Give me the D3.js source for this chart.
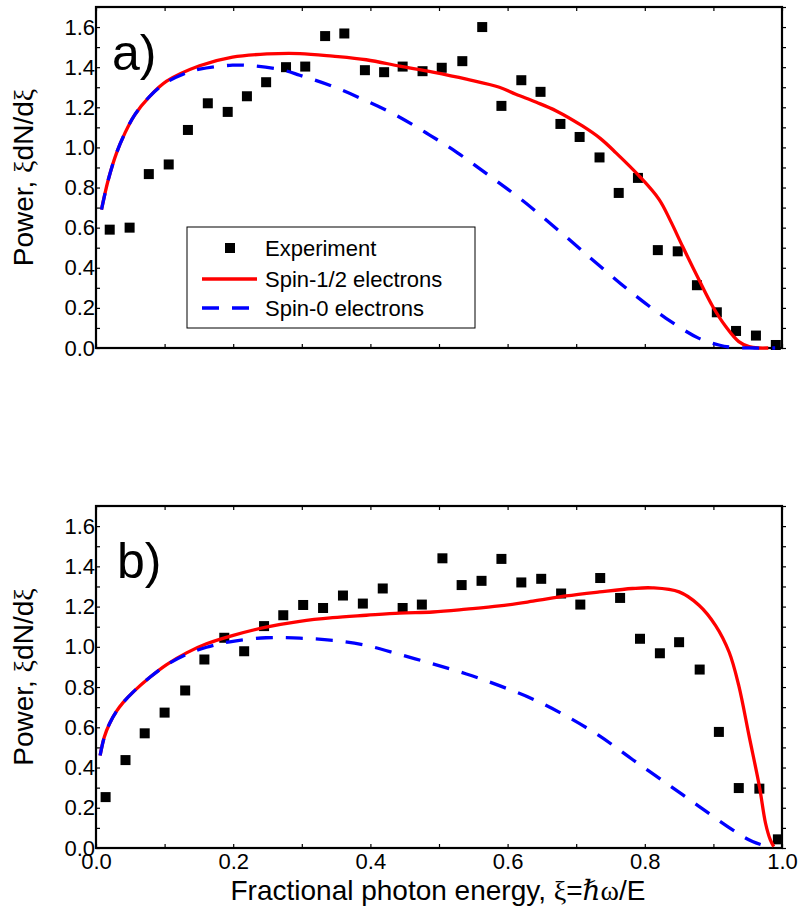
<!DOCTYPE html>
<html>
<head>
<meta charset="utf-8">
<script src="https://cdn.jsdelivr.net/npm/d3@7"></script>
<style>
  body { margin: 0; background: #fff; }
  text { font-family: "Liberation Sans", Arial, sans-serif; fill: #000; }
  .sym { font-family: "Liberation Serif", "DejaVu Serif", serif; }
</style>
</head>
<body>
<div id="chart"></div>
<script>
// experiment, panel a)
var expAX = [0.020,0.049,0.077,0.106,0.134,0.163,0.192,0.220,0.248,0.277,0.305,0.334,0.362,0.392,0.420,0.447,0.476,0.504,0.534,0.563,0.591,0.620,0.648,0.677,0.705,0.734,0.762,0.790,0.819,0.848,0.876,0.905,0.933,0.962,0.991];
var expAY = [0.59,0.60,0.867,0.915,1.087,1.22,1.177,1.255,1.325,1.40,1.403,1.555,1.568,1.385,1.375,1.403,1.38,1.397,1.43,1.60,1.207,1.335,1.277,1.117,1.052,0.95,0.773,0.848,0.488,0.482,0.313,0.178,0.085,0.062,0.015];

// theory, panel a)
var spinHalfAX = [0.008,0.018,0.030,0.042,0.056,0.079,0.103,0.151,0.199,0.250,0.297,0.345,0.394,0.443,0.491,0.540,0.588,0.612,0.642,0.671,0.709,0.735,0.758,0.792,0.821,0.838,0.855,0.879,0.899,0.918,0.937,0.952,0.966,0.980];
var spinHalfAY = [0.69,0.84,0.973,1.07,1.16,1.257,1.33,1.407,1.45,1.466,1.468,1.455,1.437,1.405,1.375,1.34,1.30,1.265,1.225,1.182,1.107,1.045,0.973,0.857,0.74,0.63,0.507,0.34,0.207,0.107,0.032,0.007,0,0];
var spinZeroAX = [0.008,0.018,0.030,0.042,0.056,0.079,0.103,0.127,0.151,0.199,0.234,0.273,0.297,0.343,0.389,0.435,0.481,0.527,0.574,0.620,0.685,0.734,0.782,0.831,0.879,0.908,0.928,0.960,0.990];
var spinZeroAY = [0.69,0.84,0.973,1.07,1.16,1.257,1.325,1.365,1.39,1.41,1.405,1.385,1.36,1.307,1.24,1.165,1.073,0.973,0.857,0.74,0.555,0.41,0.273,0.148,0.048,0.015,0.003,0,0];

// experiment, panel b)
var expBX = [0.014,0.043,0.071,0.100,0.130,0.158,0.187,0.216,0.245,0.273,0.302,0.331,0.360,0.389,0.418,0.447,0.475,0.505,0.533,0.562,0.591,0.620,0.649,0.678,0.706,0.735,0.764,0.793,0.822,0.850,0.880,0.908,0.937,0.967,0.994];
var expBY = [0.253,0.437,0.57,0.673,0.783,0.937,1.045,0.978,1.103,1.157,1.208,1.193,1.255,1.215,1.29,1.193,1.21,1.44,1.307,1.328,1.437,1.32,1.338,1.265,1.21,1.342,1.243,1.04,0.968,1.023,0.887,0.577,0.298,0.295,0.043];

// theory, panel b)
var spinHalfBX = [0.006,0.012,0.020,0.030,0.040,0.054,0.079,0.103,0.132,0.161,0.200,0.248,0.297,0.345,0.394,0.443,0.491,0.540,0.588,0.637,0.685,0.734,0.782,0.811,0.850,0.879,0.903,0.923,0.937,0.952,0.967,0.976,0.983,0.988];
var spinHalfBY = [0.46,0.55,0.62,0.68,0.725,0.775,0.85,0.912,0.97,1.015,1.057,1.098,1.127,1.145,1.157,1.168,1.173,1.187,1.203,1.227,1.253,1.273,1.29,1.293,1.273,1.207,1.107,0.973,0.807,0.557,0.307,0.123,0.04,0.007];
var spinZeroBX = [0.006,0.012,0.020,0.030,0.040,0.054,0.079,0.103,0.132,0.161,0.195,0.248,0.297,0.345,0.394,0.443,0.491,0.540,0.588,0.637,0.685,0.734,0.782,0.831,0.879,0.928,0.957,0.986];
var spinZeroBY = [0.46,0.55,0.62,0.68,0.725,0.775,0.85,0.91,0.962,0.998,1.025,1.045,1.043,1.032,1.007,0.962,0.915,0.865,0.807,0.74,0.657,0.557,0.44,0.323,0.207,0.09,0.032,0];

var yTicks = [0.0,0.2,0.4,0.6,0.8,1.0,1.2,1.4,1.6];
var xTicks = [0.0,0.2,0.4,0.6,0.8,1.0];
var legendLabels = ["Experiment","Spin-1/2 electrons","Spin-0 electrons"];

var width = 802, height = 911;
var left = 96, right = 782;

var svg = d3.select("#chart").append("svg")
	.attr("width", width)
	.attr("height", height);

var x = d3.scaleLinear().domain([0, 1]).range([left, right]);

function zip(xs, ys) {
	return xs.map(function(v, i) { return [v, ys[i]]; });
}

function panel(top, bottom, label, labelPos, exp, half, zero, showXLabels) {
	var y = d3.scaleLinear().domain([0, 1.7]).range([bottom, top]);
	var g = svg.append("g");

	// minor ticks every 0.1
	var minorX = d3.range(0, 1.0001, 0.1);
	var minorY = d3.range(0, 1.7001, 0.1);
	g.append("g")
		.attr("transform", "translate(0," + bottom + ")")
		.call(d3.axisBottom(x).tickValues(minorX).tickSize(-4).tickFormat(""))
		.call(function(s) { s.select(".domain").remove(); });
	g.append("g")
		.attr("transform", "translate(0," + top + ")")
		.call(d3.axisTop(x).tickValues(minorX).tickSize(-4).tickFormat(""))
		.call(function(s) { s.select(".domain").remove(); });
	g.append("g")
		.attr("transform", "translate(" + left + ",0)")
		.call(d3.axisLeft(y).tickValues(minorY).tickSize(-4).tickFormat(""))
		.call(function(s) { s.select(".domain").remove(); });
	g.append("g")
		.attr("transform", "translate(" + right + ",0)")
		.call(d3.axisRight(y).tickValues(minorY).tickSize(4).tickFormat(""))
		.call(function(s) { s.select(".domain").remove(); });
	g.selectAll(".tick line").attr("stroke", "#000").attr("stroke-width", 1.2);

	// y tick labels
	g.append("g")
		.attr("transform", "translate(" + left + ",0)")
		.call(d3.axisLeft(y).tickValues(yTicks).tickSize(0).tickPadding(1).tickFormat(d3.format(".1f")))
		.call(function(s) {
			s.select(".domain").remove();
			s.selectAll("text").style("font-size", "22px").style("font-family", "'Liberation Sans', Arial, sans-serif");
		});

	if (showXLabels) {
		g.append("g")
			.attr("transform", "translate(0," + bottom + ")")
			.call(d3.axisBottom(x).tickValues(xTicks).tickSize(0).tickPadding(5).tickFormat(d3.format(".1f")))
			.call(function(s) {
				s.select(".domain").remove();
				s.selectAll("text").style("font-size", "22px").style("font-family", "'Liberation Sans', Arial, sans-serif");
			});
	}

	// frame
	g.append("rect")
		.attr("x", left).attr("y", top)
		.attr("width", right - left).attr("height", bottom - top)
		.attr("fill", "none").attr("stroke", "#000").attr("stroke-width", 2.2);

	// data squares
	g.selectAll("rect.pt")
		.data(exp)
		.enter()
		.append("rect")
		.attr("class", "pt")
		.attr("x", function(d) { return x(d[0]) - 5; })
		.attr("y", function(d) { return y(d[1]) - 5; })
		.attr("width", 10).attr("height", 10)
		.attr("fill", "#000");

	var line = d3.line()
		.x(function(d) { return x(d[0]); })
		.y(function(d) { return y(Math.max(0, d[1])); })
		.curve(d3.curveCatmullRom.alpha(0.5));

	g.append("path")
		.datum(half)
		.attr("d", line)
		.attr("fill", "none")
		.attr("stroke", "#ff0000")
		.attr("stroke-width", 3.3);

	g.append("path")
		.datum(zero)
		.attr("d", line)
		.attr("fill", "none")
		.attr("stroke", "#0000ff")
		.attr("stroke-width", 3.3)
		.attr("stroke-dasharray", "17,13");

	// panel letter
	g.append("text")
		.attr("x", labelPos[0]).attr("y", labelPos[1])
		.style("font-size", "50px")
		.text(label);

	// y title
	var yt = g.append("text")
		.attr("transform", "translate(33," + ((top + bottom) / 2) + ") rotate(-90)")
		.attr("text-anchor", "middle")
		.style("font-size", "28px");
	yt.append("tspan").text("Power, ");
	yt.append("tspan").attr("class", "sym").text("ξ");
	yt.append("tspan").text("dN/d");
	yt.append("tspan").attr("class", "sym").text("ξ");
}

panel(7, 348, "a)", [112, 70], zip(expAX, expAY), zip(spinHalfAX, spinHalfAY), zip(spinZeroAX, spinZeroAY), false);
panel(506, 848, "b)", [117, 578], zip(expBX, expBY), zip(spinHalfBX, spinHalfBY), zip(spinZeroBX, spinZeroBY), true);

// x title
var xt = svg.append("text")
	.attr("x", 438).attr("y", 900)
	.attr("text-anchor", "middle")
	.style("font-size", "28px");
xt.append("tspan").text("Fractional photon energy, ");
xt.append("tspan").attr("class", "sym").text("ξ");
xt.append("tspan").text("=");
xt.append("tspan").attr("class", "sym").style("font-style", "italic").text("ℏ");
xt.append("tspan").attr("class", "sym").text("ω");
xt.append("tspan").text("/E");

// legend
var legend = svg.append("g");
legend.append("rect")
	.attr("x", 187).attr("y", 227)
	.attr("width", 288).attr("height", 101)
	.attr("fill", "#fff").attr("stroke", "#000").attr("stroke-width", 1);

var rowY = [248, 279, 308];
legend.append("rect")
	.attr("x", 225).attr("y", rowY[0] - 5)
	.attr("width", 10).attr("height", 10)
	.attr("fill", "#000");
legend.append("line")
	.attr("x1", 202).attr("x2", 257)
	.attr("y1", rowY[1]).attr("y2", rowY[1])
	.attr("stroke", "#ff0000").attr("stroke-width", 3.3);
legend.append("line")
	.attr("x1", 202).attr("x2", 257)
	.attr("y1", rowY[2]).attr("y2", rowY[2])
	.attr("stroke", "#0000ff").attr("stroke-width", 3.3)
	.attr("stroke-dasharray", "17,13");

legend.selectAll("text.lg")
	.data(legendLabels)
	.enter()
	.append("text")
	.attr("class", "lg")
	.attr("x", 265)
	.attr("y", function(d, i) { return rowY[i] + 8; })
	.style("font-size", "22px")
	.text(function(d) { return d; });
</script>
</body>
</html>
